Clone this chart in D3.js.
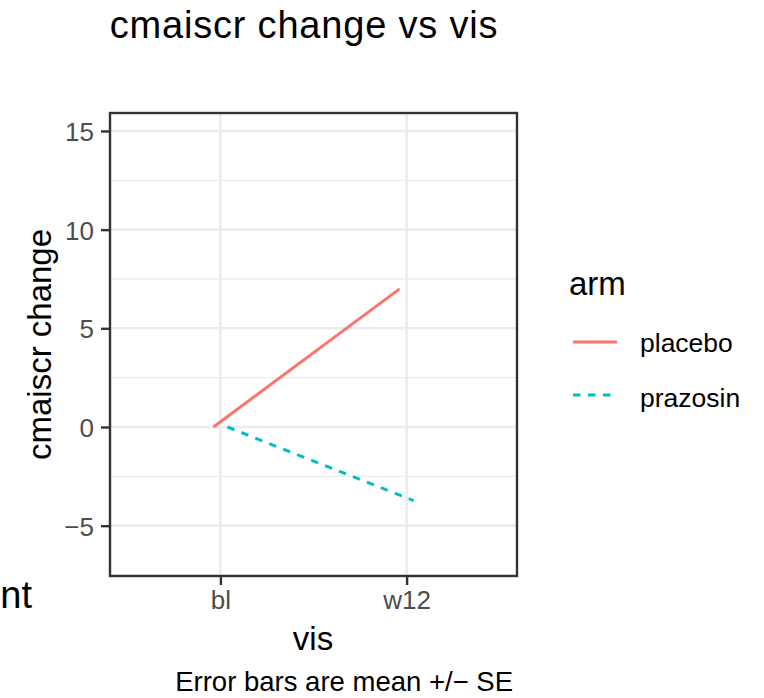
<!DOCTYPE html>
<html>
<head>
<meta charset="utf-8">
<script src="https://cdn.jsdelivr.net/npm/d3@7"></script>
<style>
  html, body { margin: 0; padding: 0; background: #fff; }
  svg { display: block; font-family: "Liberation Sans", Arial, Helvetica, sans-serif; }
</style>
</head>
<body>
<svg id="chart" width="764" height="698"></svg>
<script>
// ---- data ----
const visits = ["bl", "w12"];
const arms = ["placebo", "prazosin"];
const placeboValues = [0.0, 7.0];
const prazosinValues = [0.0, -3.73];
const yTicks = [-5, 0, 5, 10, 15];
const yMinor = [-7.5, -2.5, 2.5, 7.5, 12.5];
const armColors = ["#F8766D", "#00BFC4"];
const armDashes = [null, "7.5,7.5"];
const titleText = "cmaiscr change vs vis";
const xTitle = "vis";
const yTitle = "cmaiscr change";
const legendTitle = "arm";
const captionText = "Error bars are mean +/\u2212 SE";

const series = [
  { arm: arms[0], values: placeboValues, color: armColors[0], dash: armDashes[0], offset: -1 },
  { arm: arms[1], values: prazosinValues, color: armColors[1], dash: armDashes[1], offset: 1 }
];

// ---- layout ----
const svg = d3.select("#chart");
const panel = { left: 110, top: 113, right: 517, bottom: 576 };

const x = d3.scaleLinear().domain([1 - 0.593, 2 + 0.593]).range([panel.left, panel.right]);
const y = d3.scaleLinear().domain([-7.55, 15.91]).range([panel.bottom, panel.top]);
const dodge = 0.0375;

svg.append("rect").attr("x", panel.left).attr("y", panel.top)
  .attr("width", panel.right - panel.left).attr("height", panel.bottom - panel.top)
  .attr("fill", "#fff");

const grid = svg.append("g");
grid.selectAll("line.minor").data(yMinor).enter().append("line")
  .attr("x1", panel.left).attr("x2", panel.right)
  .attr("y1", d => y(d)).attr("y2", d => y(d))
  .attr("stroke", "#EBEBEB").attr("stroke-width", 1.3);
grid.selectAll("line.majy").data(yTicks).enter().append("line")
  .attr("x1", panel.left).attr("x2", panel.right)
  .attr("y1", d => y(d)).attr("y2", d => y(d))
  .attr("stroke", "#EBEBEB").attr("stroke-width", 2.6);
grid.selectAll("line.majx").data(visits).enter().append("line")
  .attr("y1", panel.top).attr("y2", panel.bottom)
  .attr("x1", (d, i) => x(i + 1)).attr("x2", (d, i) => x(i + 1))
  .attr("stroke", "#EBEBEB").attr("stroke-width", 2.6);

const line = d3.line();
series.forEach(s => {
  const pts = s.values.map((v, i) => [x(i + 1 + s.offset * dodge), y(v)]);
  svg.append("path").attr("d", line(pts))
    .attr("fill", "none").attr("stroke", s.color).attr("stroke-width", 3)
    .attr("stroke-dasharray", s.dash);
});

svg.append("rect").attr("x", panel.left).attr("y", panel.top)
  .attr("width", panel.right - panel.left).attr("height", panel.bottom - panel.top)
  .attr("fill", "none").attr("stroke", "#333333").attr("stroke-width", 2.4);

const yAxis = d3.axisLeft(y).tickValues(yTicks).tickSize(9).tickPadding(7)
  .tickFormat(d => d < 0 ? "\u2212" + Math.abs(d) : String(d));
const gy = svg.append("g").attr("transform", `translate(${panel.left},0)`).call(yAxis);
gy.select(".domain").remove();
gy.selectAll(".tick line").attr("stroke", "#333333").attr("stroke-width", 2.4);
gy.selectAll(".tick text").attr("fill", "#4D4D4D").style("font-size", "26px").attr("dy", "0.36em");

const xAxis = d3.axisBottom(x).tickValues([1, 2]).tickSize(9).tickPadding(4)
  .tickFormat(d => visits[d - 1]);
const gx = svg.append("g").attr("transform", `translate(0,${panel.bottom})`).call(xAxis);
gx.select(".domain").remove();
gx.selectAll(".tick line").attr("stroke", "#333333").attr("stroke-width", 2.4);
gx.selectAll(".tick text").attr("fill", "#4D4D4D").style("font-size", "26px").attr("dy", "0.78em");

svg.append("text").attr("x", 304).attr("y", 38).attr("text-anchor", "middle")
  .style("font-size", "38px").style("letter-spacing", "0.8px").attr("fill", "#000").text(titleText);
svg.append("text").attr("x", 313).attr("y", 650).attr("text-anchor", "middle")
  .style("font-size", "33px").attr("fill", "#000").text(xTitle);
svg.append("text").attr("transform", `translate(51,${(panel.top + panel.bottom) / 2}) rotate(-90)`)
  .attr("text-anchor", "middle").style("font-size", "33px").attr("fill", "#000").text(yTitle);
svg.append("text").attr("x", 513).attr("y", 691).attr("text-anchor", "end")
  .style("font-size", "27.5px").attr("fill", "#000").text(captionText);
svg.append("text").attr("x", 32).attr("y", 608).attr("text-anchor", "end")
  .style("font-size", "38px").attr("fill", "#000").text("nt");

const lg = svg.append("g");
lg.append("text").attr("x", 569).attr("y", 295).style("font-size", "33px").attr("fill", "#000").text(legendTitle);
series.forEach((s, i) => {
  const ky = 342 + i * 53;
  lg.append("line").attr("x1", 573).attr("x2", 617).attr("y1", ky).attr("y2", ky)
    .attr("stroke", s.color).attr("stroke-width", 3).attr("stroke-dasharray", s.dash);
  lg.append("text").attr("x", 640).attr("y", 352 + i * 55).style("font-size", "26.5px")
    .attr("fill", "#000").text(s.arm);
});
</script>
</body>
</html>
